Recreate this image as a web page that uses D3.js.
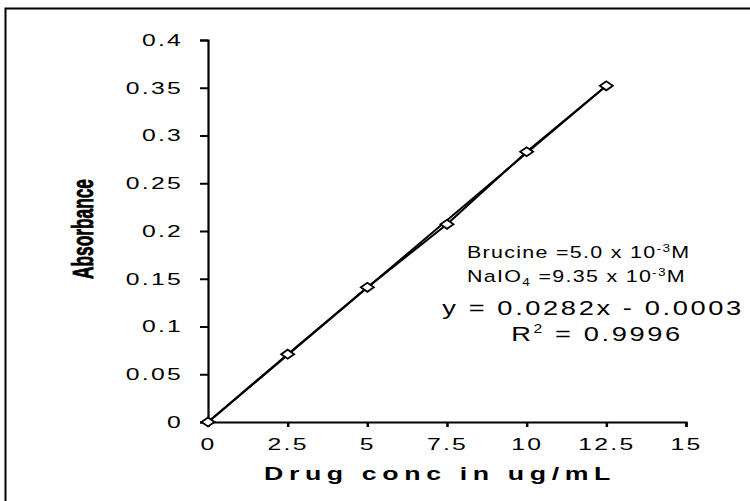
<!DOCTYPE html>
<html>
<head>
<meta charset="utf-8">
<script src="https://cdn.jsdelivr.net/npm/d3@7"></script>
<style>
  body { margin: 0; background: #fff; }
  svg { display: block; font-family: "Liberation Sans", Arial, sans-serif; }
</style>
</head>
<body>
<svg></svg>
<script>
const svgWidth = 750
const svgHeight = 501

// data
const concs = [0, 2.5, 5, 7.5, 10, 12.5]
const absorbance = [0, 0.071, 0.141, 0.207, 0.283, 0.352]
const xTicks = [0, 2.5, 5, 7.5, 10, 12.5, 15]
const yTicks = [0, 0.05, 0.1, 0.15, 0.2, 0.25, 0.3, 0.35, 0.4]
const slope = 0.0282
const intercept = -0.0003

const svg = d3.select("svg")
    .attr("width", svgWidth)
    .attr("height", svgHeight)

// outer frame (runs off the right and bottom edges)
svg.append("rect")
    .attr("x", 5.5).attr("y", 8.5)
    .attr("width", 760).attr("height", 510)
    .attr("fill", "none").attr("stroke", "#000").attr("stroke-width", 2)

const xScale = d3.scaleLinear().domain([0, 15]).range([208, 686])
const yScale = d3.scaleLinear().domain([0, 0.4]).range([422, 40])

const labelStretch = 1.5

const yAxis = svg.append("g")
    .attr("transform", `translate(${xScale(0)},0)`)
    .call(d3.axisLeft(yScale).tickValues(yTicks).tickSize(8).tickSizeOuter(8)
        .tickFormat(d => d === 0 ? "0" : String(+d.toFixed(2))))
yAxis.select(".domain").attr("stroke-width", 2.2)
yAxis.selectAll(".tick line").attr("stroke-width", 2)
yAxis.selectAll(".tick text")
    .attr("x", -25 / labelStretch)
    .attr("transform", `scale(${labelStretch},1)`)
    .attr("font-size", 16.5)
    .attr("letter-spacing", 1.5)
    .attr("font-family", "Liberation Sans, Arial, sans-serif")
    .attr("fill", "#000")

const xAxis = svg.append("g")
    .attr("transform", `translate(0,${yScale(0)})`)
    .call(d3.axisBottom(xScale).tickValues(xTicks).tickSize(5).tickSizeOuter(5)
        .tickFormat(d => String(d)))
xAxis.select(".domain").attr("stroke-width", 2.2)
xAxis.selectAll(".tick line").attr("stroke-width", 2.5)
xAxis.selectAll(".tick text")
    .attr("y", 16)
    .attr("transform", `scale(${labelStretch},1)`)
    .attr("font-size", 16.5)
    .attr("letter-spacing", 1.5)
    .attr("font-family", "Liberation Sans, Arial, sans-serif")
    .attr("fill", "#000")

// axis titles
svg.append("text")
    .text("Drug conc in ug/mL")
    .attr("x", 440).attr("y", 480)
    .attr("text-anchor", "middle")
    .attr("font-size", 19)
    .attr("font-weight", "bold")
    .attr("letter-spacing", 4)
    .attr("textLength", 352)
    .attr("lengthAdjust", "spacingAndGlyphs")

svg.append("text")
    .text("Absorbance")
    .attr("transform", "translate(93,229) rotate(-90)")
    .attr("text-anchor", "middle")
    .attr("font-family", "Liberation Sans Narrow, Arial Narrow, sans-serif")
    .attr("font-size", 30)
    .attr("font-weight", "bold")
    .attr("stroke", "#000")
    .attr("stroke-width", 0.8)
    .attr("textLength", 100)
    .attr("lengthAdjust", "spacingAndGlyphs")

// trend line
const xFit = [0, 12.5]
svg.append("path")
    .datum(xFit)
    .attr("d", d3.line().x(d => xScale(d)).y(d => yScale(slope * d + intercept)))
    .attr("fill", "none").attr("stroke", "#000").attr("stroke-width", 2)

// data line
const pts = concs.map((c, i) => ({ x: c, y: absorbance[i] }))
svg.append("path")
    .datum(pts)
    .attr("d", d3.line().x(d => xScale(d.x)).y(d => yScale(d.y)))
    .attr("fill", "none").attr("stroke", "#000").attr("stroke-width", 2)

// diamond markers
svg.selectAll(".pt")
    .data(pts)
    .join("path")
    .attr("class", "pt")
    .attr("transform", d => `translate(${xScale(d.x)},${yScale(d.y)})`)
    .attr("d", "M-6.5,0L0,-4.5L6.5,0L0,4.5Z")
    .attr("fill", "#fff").attr("stroke", "#000").attr("stroke-width", 1.8)

// annotation, stretched wide like the original
function noteLine(x, y, sx, size, anchor) {
    return svg.append("g")
        .attr("transform", `translate(${x},${y}) scale(${sx},1)`)
        .append("text")
        .attr("font-size", size)
        .attr("letter-spacing", 1)
        .attr("text-anchor", anchor)
}

const l1 = noteLine(467, 258, 1.3, 16.5, "start")
l1.append("tspan").text("Brucine =5.0 x 10")
l1.append("tspan").text("-3").attr("font-size", 10.5).attr("dy", -6)
l1.append("tspan").text("M").attr("dy", 6)

const l2 = noteLine(467, 282, 1.3, 16.5, "start")
l2.append("tspan").text("NaIO")
l2.append("tspan").text("4").attr("font-size", 10.5).attr("dy", 4)
l2.append("tspan").text(" =9.35 x  10").attr("dy", -4)
l2.append("tspan").text("-3").attr("font-size", 10.5).attr("dy", -6)
l2.append("tspan").text("M").attr("dy", 6)

noteLine(593, 315, 1.3, 21, "middle")
    .attr("letter-spacing", 2)
    .text("y = 0.0282x - 0.0003")

const r2 = noteLine(597, 341, 1.3, 21, "middle").attr("letter-spacing", 2)
r2.append("tspan").text("R")
r2.append("tspan").text("2").attr("font-size", 12).attr("dy", -8)
r2.append("tspan").text(" = 0.9996").attr("dy", 8)
</script>
</body>
</html>
